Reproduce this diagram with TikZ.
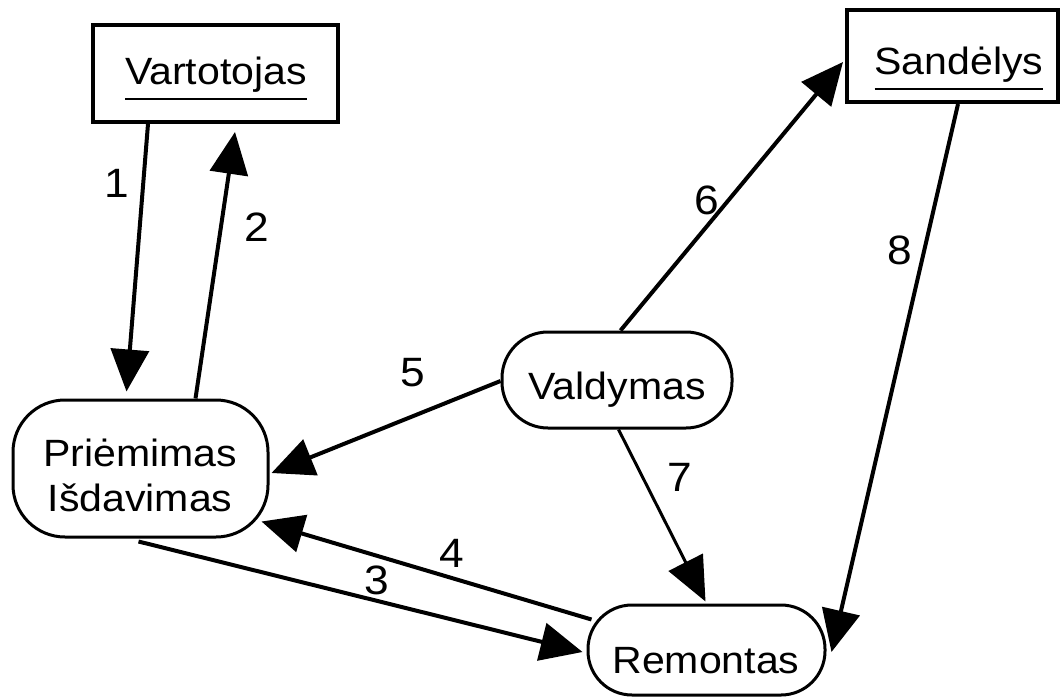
\documentclass[tikz,border=0pt]{standalone}
\usepackage{fontspec}
\setmainfont{Liberation Sans}[FakeStretch=1.08]
\usetikzlibrary{arrows.meta,calc}

% underlined title with a deep rule
\newcommand\ultitle[1]{\setbox0\hbox{#1}\rlap{\rule[-15pt]{\wd0}{2pt}}\box0}

\tikzset{
  storebox/.style={draw, line width=4pt, minimum width=#1, inner sep=0pt},
  procbox/.style={draw, line width=3pt, rounded corners=46pt, inner sep=0pt},
  boxtext/.style={font=\fontsize{38pt}{45pt}\selectfont, anchor=base, inner sep=0pt, align=center},
  flownum/.style={font=\fontsize{41pt}{45pt}\selectfont, inner sep=0pt},
  flow/.style={line width=4pt, -{Triangle[length=42pt,width=38pt]}},
  thinflow/.style={line width=3pt, -{Triangle[length=44pt,width=38pt]}}
}

\begin{document}
\begin{tikzpicture}[x=1pt, y=-1pt]
\useasboundingbox (0,0) rectangle (1064,698);
\fill[white] (0,0) rectangle (1064,698);

% external entities
\node[storebox=245pt, minimum height=97pt] (var) at (215.5,73.5) {};
\node[storebox=211pt, minimum height=92pt] (snd) at (952.5,56) {};
\node[boxtext] (vartxt) at (216,85) {\ultitle{Vartotojas}};
\node[boxtext] (sndtxt) at (959,75) {\ultitle{Sandėlys}};

% processes
\node[procbox, minimum width=255pt, minimum height=137pt, rounded corners=52pt] (pri) at (140.5,468.5) {};
\node[procbox, minimum width=230pt, minimum height=96pt] (val) at (617,380) {};
\node[procbox, minimum width=237pt, minimum height=90pt, rounded corners=44pt] (rem) at (706.5,650) {};
\node[boxtext] (pritxt) at (140,466) {Priėmimas};
\node[boxtext] (isdtxt) at (140,511) {Išdavimas};
\node[boxtext] (valtxt) at (617,399) {Valdymas};
\node[boxtext] (remtxt) at (706,673) {Remontas};

% flows
\draw[flow] ($(var.south west)+(57,0)$) -- ($(pri.north west)+(115,-7)$);
\draw[flow] ($(pri.north west)+(184,0)$) -- ($(var.south west)+(144,8)$);
\draw[flow] ($(pri.south west)+(127,3)$) -- ($(rem.west)+(-4,2)$);
\draw[flow] ($(rem.north west)+(5,16)$) -- ($(pri.south east)+(-8,-17)$);
\draw[flow] ($(val.west)+(0,1)$) -- ($(pri.east)+(2,4.5)$);
\draw[flow] ($(val.north west)+(120,0)$) -- ($(snd.west)+(-2,6)$);
\draw[thinflow] ($(val.south west)+(118,0)$) -- ($(rem.north west)+(119,-2)$);
\draw[flow] ($(snd.south west)+(113,0)$) -- ($(rem.east)+(5,2)$);

% flow numbers
\node[flownum] (n1) at (117,183) {1};
\node[flownum] (n2) at (257,227) {2};
\node[flownum] (n3) at (377,580) {3};
\node[flownum] (n4) at (452,553) {4};
\node[flownum] (n5) at (413,373) {5};
\node[flownum] (n6) at (707,200) {6};
\node[flownum] (n7) at (680,477) {7};
\node[flownum] (n8) at (900,250) {8};
\end{tikzpicture}
\end{document}
